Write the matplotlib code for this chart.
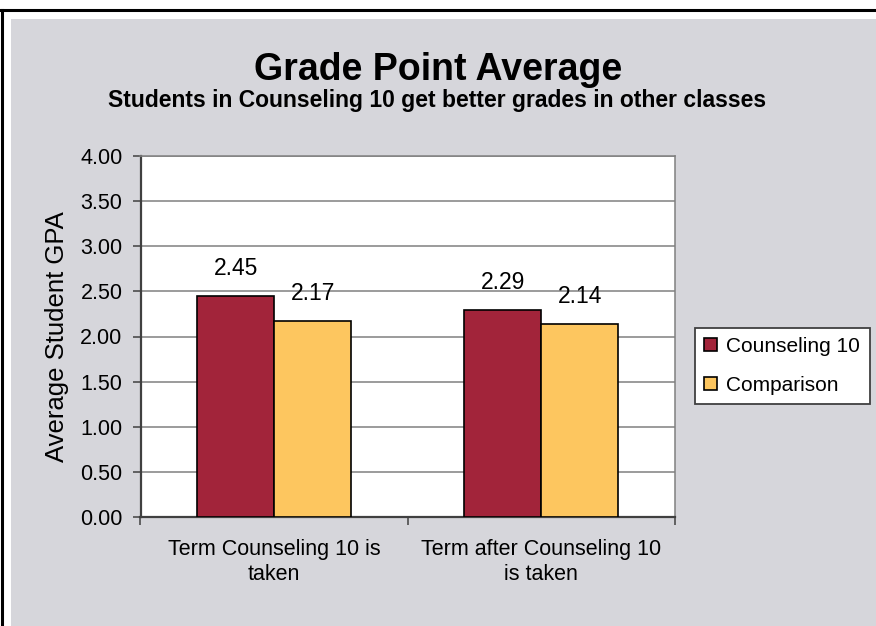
import matplotlib
matplotlib.use("Agg")
import matplotlib.pyplot as plt
from matplotlib.patches import Rectangle
from matplotlib.lines import Line2D
import numpy as np

plt.rcParams['font.family'] = ['Liberation Sans', 'DejaVu Sans']

categories = ["Term Counseling 10 is\ntaken", "Term after Counseling 10\nis taken"]
series_names = ["Counseling 10", "Comparison"]
counseling = [2.45, 2.29]
comparison = [2.17, 2.14]
yticks = [0.0, 0.5, 1.0, 1.5, 2.0, 2.5, 3.0, 3.5, 4.0]

W, H = 876, 626
fig = plt.figure(figsize=(W / 100, H / 100), dpi=100, facecolor="white")

# gray chart area and black outer border (Excel style)
fig.patches.append(Rectangle((11 / W, 0), 1, (H - 19) / H, transform=fig.transFigure,
                             facecolor="#D6D6DB", edgecolor="none", zorder=-10))
fig.lines.append(Line2D([0, 1], [(H - 10) / H] * 2, transform=fig.transFigure,
                        color="black", lw=2.2, zorder=-5))
fig.lines.append(Line2D([1.5 / W] * 2, [0, (H - 10) / H], transform=fig.transFigure,
                        color="black", lw=2.2, zorder=-5))

ax = fig.add_axes([140.5 / W, (H - 517) / H, 534.5 / W, 361 / H])
ax.set_zorder(1)
ax.set_facecolor("white")

x = np.arange(len(categories))
bw = 0.288
red = "#A2243A"
yellow = "#FDC65F"
b1 = ax.bar(x - bw / 2, counseling, bw, color=red, edgecolor="black", lw=1.2,
            label=series_names[0], zorder=3)
b2 = ax.bar(x + bw / 2, comparison, bw, color=yellow, edgecolor="black", lw=1.2,
            label=series_names[1], zorder=3)

for bars, vals in [(b1, counseling), (b2, comparison)]:
    for b, v in zip(bars, vals):
        ax.annotate("%.2f" % v, (b.get_x() + b.get_width() / 2, v),
                    xytext=(0, 16), textcoords="offset pixels",
                    ha="center", va="bottom", fontsize=16.5)

ax.set_xlim(-0.5, 1.5)
ax.set_ylim(0, 4)
ax.set_yticks(yticks)
ax.set_yticklabels(["%.2f" % t for t in yticks], fontsize=15.5)
ax.yaxis.grid(True, color="#808080", lw=1.1, zorder=0)
ax.set_axisbelow(True)

ax.set_xticks(x)
ax.set_xticklabels(categories, fontsize=15.5, linespacing=1.25)
ax.set_xticks([-0.5, 0.5, 1.5], minor=True)
ax.tick_params(axis="x", which="major", length=0, pad=16)
ax.tick_params(axis="x", which="minor", length=6, width=1.1, color="#404040", direction="out")
ax.tick_params(axis="y", length=6, width=1.1, color="#404040", direction="out", pad=7)

for s in ["top", "right"]:
    ax.spines[s].set_color("#808080")
    ax.spines[s].set_linewidth(1.1)
for s in ["left", "bottom"]:
    ax.spines[s].set_color("#404040")
    ax.spines[s].set_linewidth(1.6)

ax.set_ylabel("Average Student GPA", fontsize=18.5, labelpad=8)

leg = fig.legend(handles=[b1, b2], labels=series_names, loc="center left",
                 bbox_to_anchor=(695 / W, (H - 366) / H), borderaxespad=0, fontsize=15,
                 handlelength=0.6, handleheight=0.6, handletextpad=0.45,
                 borderpad=0.45, labelspacing=0.95, fancybox=False, framealpha=1,
                 edgecolor="#404040", facecolor="white", shadow=False)
leg.get_frame().set_linewidth(1.3)
leg.set_zorder(2)

fig.text(438 / W, (H - 70) / H, "Grade Point Average", ha="center", va="center",
         fontsize=27, fontweight="bold")
fig.text(437 / W, (H - 101) / H, "Students in Counseling 10 get better grades in other classes",
         ha="center", va="center", fontsize=16.5, fontweight="bold")

fig.savefig("out.png", dpi=100, facecolor="white")
